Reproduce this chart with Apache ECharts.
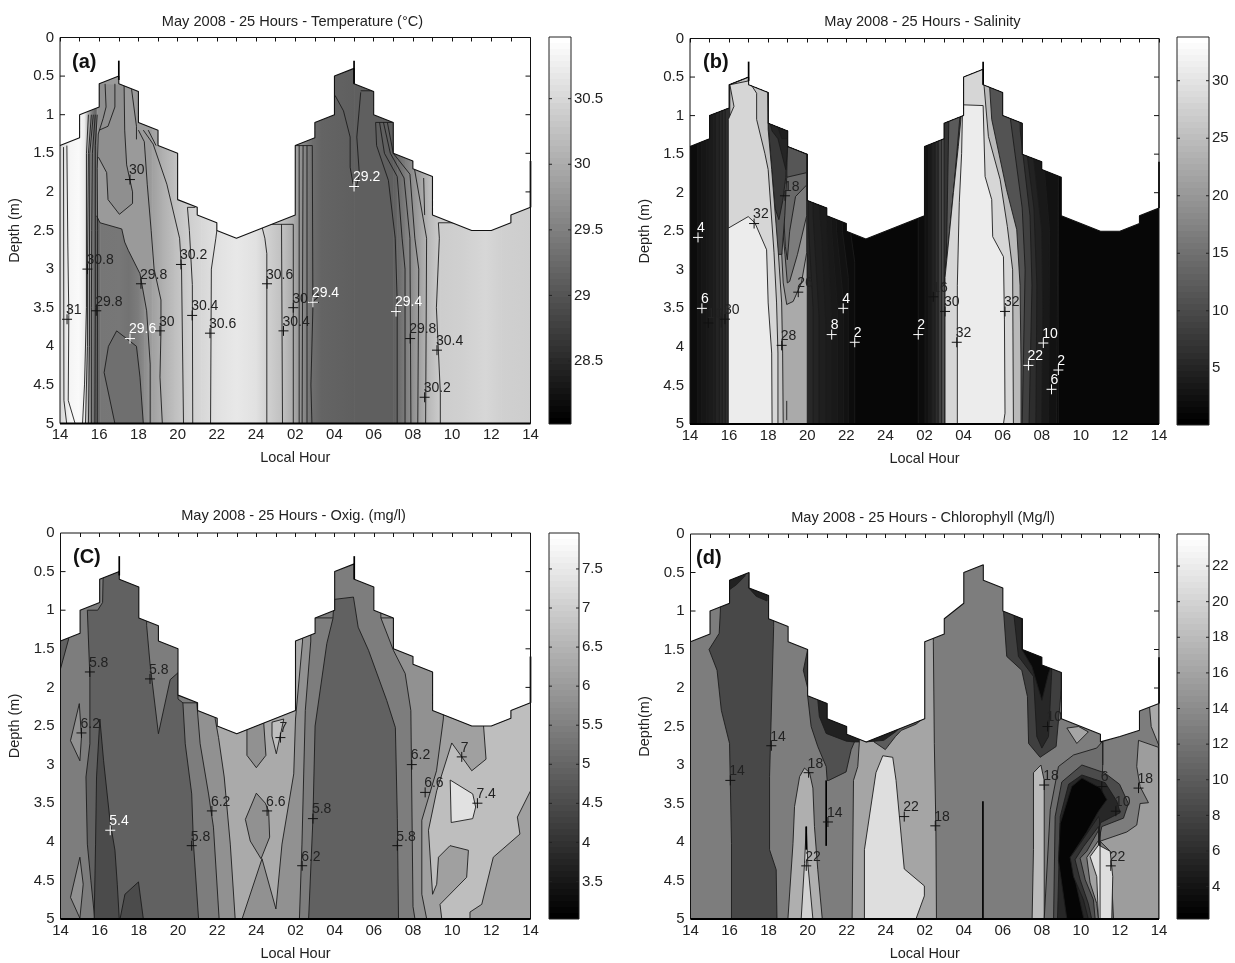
<!DOCTYPE html>
<html><head><meta charset="utf-8">
<style>html,body{margin:0;padding:0;background:#fff}#c{width:1235px;height:963px}</style>
<script src="https://cdn.jsdelivr.net/npm/echarts@6/dist/echarts.min.js"></script>
</head><body><div id="c"></div>
<script>
const hourLabels=['14','16','18','20','22','24','02','04','06','08','10','12','14'];
const depthTicks=[.5,1,1.5,2,2.5,3,3.5,4,4.5];
const surfaceMain=[0,1.4,1,1.3,1,1,2,.9,2,.6,3,.5,3,.6,4,.7,4,1.1,5,1.2,5,1.4,6,1.5,6,2.1,7,2.2,7,2.3,8,2.4,8,2.5,9,2.6,10,2.5,11,2.4,12,2.3,12,1.4,13,1.3,13,1.1,14,1,14,.5,15,.4,15,.6,16,.7,16,1,17,1.1,17,1.5,18,1.6,18,1.7,19,1.8,19,2.3,20,2.4,21,2.5,22,2.5,23,2.4,23,2.3,24,2.2];
const surfaceChl=[0,1.4,1,1.3,1,1,2,.9,2,.6,3,.5,3,.7,4,.8,4,1.1,5,1.2,5,1.4,6,1.5,6,2.1,7,2.2,7,2.4,8,2.5,8,2.6,9,2.7,10,2.6,11,2.5,12,2.4,12,1.4,13,1.3,13,1.1,14,.9,14,.5,15,.4,15,.6,16,.7,16,1,17,1.1,17,1.5,18,1.6,18,1.7,19,1.8,19,2.4,20,2.5,21,2.6,21,2.7,22,2.63,23,2.55,23,2.3,24,2.2];
const spikesMain=[[3,.3,3,.55],[15,.3,15,.6],[24,1.6,24,2.2]];
const spikesChl=[[24,1.6,24,2.2],[14.98,3.47,14.98,5],[6.95,3.2,6.95,4.05],[5.93,3.8,5.93,4.1]];

const tempTicks=[28.5,29,29.5,30,30.5];
const salTicks=[5,10,15,20,25,30];
const oxyTicks=[3.5,4,4.5,5,5.5,6,6.5,7,7.5];
const chlTicks=[4,6,8,10,12,14,16,18,20,22];

const tempHours=[0,.2,.5,.95,1.25,1.4,1.55,1.7,1.95,2.05,3,3.5,4,4.3,4.7,5.2,5.8,6.5,7.2,8,9,10,10.5,11.4,11.9,12.2,12.6,12.85,13.3,15,17,17.2,17.6,18,18.4,18.8,19.4,20.5,21.7,22.5,24];
const tempValues=[30.51,30.62,30.85,30.91,30.74,30.1,29.64,29.29,29.12,29.38,29.4,29.34,29.47,29.64,29.87,30.04,30.22,30.39,30.51,30.62,30.7,30.62,30.45,30.22,29.99,29.76,29.47,29.29,29.18,29.12,29.12,29.23,29.47,29.7,29.93,30.16,30.39,30.43,30.51,30.43,30.39];
const tempPatches=[
 [29.8,[1.87,2.31,2.04,2.4,3.15,2.48,3.3,2.65,3.49,2.76,4.08,3.06,4.42,3.54,4.6,4.23,4.6,0,1.87,0]],
 [29.68,[3.27,.62,3.3,1.2,3.4,1.65,3.7,2,3.7,2.15,3.03,2.29,2.45,2.1,2.38,1.75,1.96,1.55,1.9,.6]],
 [29.3,[2.89,3.8,2.47,4,2.25,4.34,2.8,5,4.25,5,4.08,4.4,3.9,4]]
];
const tempContours=[
 [.18,1.42,.2,4.7,.34,5],[.35,1.4,.4,2.7,.45,3.6,.42,4.7,.77,5],
 [1.45,1,1.35,1.5,1.35,3.5,1.25,4.5,1.15,5],[1.6,1,1.45,1.5,1.4,3,1.4,4,1.3,5],[1.7,1,1.52,1.5,1.5,3,1.5,4,1.45,5],[1.8,1,1.65,1.5,1.62,2.5,1.6,3.5,1.6,5],[1.9,1,1.8,1.4,1.8,2.5,1.8,3.5,1.78,5],
 [2.3,.6,2.35,.9,2.2,1.05,1.95,1.25,1.9,1.7,1.92,2.5,1.9,5],[2.8,.6,2.8,.9,2.45,1.15,2,1.2],
 [3.27,.62,3.3,1.2,3.4,1.65,3.7,2,3.7,2.15,3.03,2.29,2.45,2.1,2.38,1.75,1.96,1.55],[3.65,.67,3.9,1.15,3.9,1.32],
 [4,1.2,4.3,1.35,4.45,1.9,4.65,2.5,4.8,3,5.15,3.4,5.15,3.8,5.1,4.4,5.22,5],
 [4.25,1.2,4.75,1.38,5.45,1.9,6.1,2.6,6.2,3,6.3,5],[4.5,1.2,4.9,1.4],
 [6.5,2.2,6.6,2.5,6.75,3.2,6.77,5],[6.5,2.2,6.9,2.2],[8,2.5,7.95,2.6,7.72,3,7.68,5],
 [2.89,3.8,2.47,4,2.25,4.34,2.8,5],[2.89,3.8,3.9,4,4.08,4.4,4.25,5],
 [1.87,2.31,2.04,2.4,3.15,2.48,3.3,2.65,3.49,2.76,4.08,3.06,4.42,3.54,4.6,4.23,4.6,5],
 [10.3,2.45,10.45,2.6,10.55,2.8,10.55,5],[11.3,2.42,11.35,5],[10.3,2.42,11.9,2.42],[11.9,2.42,11.9,5],
 [12.2,1.4,12.2,5],[12.4,1.4,12.35,5],[12.6,1.4,12.6,5],[12.87,1.4,12.9,3.5,12.8,4.5,12.85,5],[12,1.4,12.87,1.4],
 [14.03,.75,14.46,.95,14.8,1.29,14.8,1.68,14.95,1.9],[15.34,.71,15.14,1.29,15.27,1.77,15.1,1.95],[15.34,.69,16,.69],
 [16.1,1.1,16.15,1.4,16.75,1.85,17.1,2.6,17.2,3.4,17.2,5],[16.3,1.1,16.55,1.5,17.2,1.8,17.45,2.6,17.6,3,17.6,5],[16.5,1.1,16.85,1.5,17.55,1.82,17.85,2.6,17.9,5],[16.7,1.1,17,1.5,17.85,1.77,18.1,2.6,18.3,3,18.25,5],[16.1,1.1,17,1.1],
 [18,1.6,18.1,1.73,18.7,2.6,18.65,5],[18.55,1.82,18.6,2.3],[19.3,2.4,19.35,2.6,19.2,3.5,19.4,4.6,19.4,5],[19.3,2.4,20.5,2.4]
];
const tempMarks=[[3.57,1.84,'30',0],[1.4,3,'30.8',0],[.36,3.65,'31',0],[1.85,3.54,'29.8',0],[3.57,3.9,'29.6',1],[4.13,3.19,'29.8',0],[5.1,3.8,'30',0],[6.17,2.94,'30.2',0],[6.74,3.6,'30.4',0],[7.65,3.83,'30.6',0],[10.56,3.19,'30.6',0],[11.9,3.5,'30.2',0],[11.4,3.8,'30.4',0],[12.9,3.43,'29.4',1],[15,1.93,'29.2',1],[17.14,3.55,'29.4',1],[17.86,3.9,'29.8',0],[19.23,4.05,'30.4',0],[18.6,4.66,'30.2',0]];

const salBands=[
 [1,[0,0,0,5,24,5,24,0]],
 [1.6,[0,0,0,5,8.43,5,8.43,2.9,8.1,2.3,8,0]],
 [2.4,[.4,0,.4,5,8.1,5,8.1,3.1,7.8,2.5,7.6,0]],
 [3,[.6,0,.6,5,7.85,5,7.85,3.4,7.5,2.5,7.3,0]],
 [3.4,[.85,0,.85,5,7.55,5,7.55,3.5,7.25,2.5,7.1,0]],
 [3.8,[1,0,1,5,7.25,5,7.25,3.6,7,2.5,6.9,0]],
 [4.2,[1.15,0,1.15,5,6.95,5,6.95,3.7,6.75,2.6,6.6,2.1,6.5,0]],
 [4.8,[1.3,0,1.3,5,6.6,5,6.6,3.6,6.3,2.3,6.25,0]],
 [5.4,[1.5,0,1.5,5,6.3,5,6.3,3.5,6.05,2.4,6,0]],
 [5.8,[1.65,0,1.65,5,4.2,5,4.2,0]],
 [6.2,[1.8,0,1.8,5,4.2,5,4.2,0]],
 [22.5,[4,5,6,5,6,1.2,4,1.2]],
 [19.8,[5.97,2.78,5.7,3.17,5.28,3.41,4.95,3.45,4.77,3.17,4.69,2.78,4.43,2.05,4.25,1.4,4.2,1.2,5,1.4,5.97,1.5]],
 [16.5,[5.97,2.3,5.5,2.8,5.1,3.15,4.98,3.17,4.86,2.8,4.6,2.1,4.4,1.5,4.3,1.2,5,1.4,5.97,1.5]],
 [13.9,[5.97,1.9,5.4,2.05,5.1,2.5,4.98,2.87,4.88,2.7,4.75,2.1,4.5,1.5,4.4,1.2,5,1.4,5.97,1.5]],
 [11.5,[5.97,1.74,4.95,1.8,4.9,1.5,4.6,1.2,5,1.4,5.97,1.5]],
 [12,[4.1,1.5,4.3,2.2,4.5,2.8,4.7,2.8,4.85,2.3,4.95,1.8,5,1.2,4.1,1.1]],
 [7.5,[4,1.1,4.18,1.7,4.35,2.2,4.55,2.35,4.75,2.1,4.9,1.8,5,1.2]],
 [5,[4,1,5,1,5,1.4,4.9,1.7,4.7,1.5,4.5,1.3,4.2,1.2]],
 [4,[4.3,1,5,1,5,1.3,4.7,1.3]],
 [25.8,[2.04,.6,3,.5,3.98,.69,4,1.18,4.18,1.7,4.52,2.78,4.69,3.43,4.74,4.08,4.77,5,2,5]],
 [28.4,[2.04,.6,2.25,.88,1.96,1.05,1.96,5,4.5,5,4.5,4.08,4.43,3.43,4.3,2.78,4,1.7,3.83,1.49,3.41,1.05,3.41,.71,3,.55]],
 [31.3,[1.96,2.46,2.98,2.31,3.32,2.39,3.92,2.74,4,3.43,4.18,4.08,4.2,5,1.96,5]],
 [1.6,[11.68,0,11.68,5,18.85,5,18.85,0]],
 [2.4,[12.03,0,12.03,5,18.75,5,18.85,1.8,18.85,0]],
 [3.4,[12.2,0,12.2,5,18.35,5,18.4,2.5,18.1,1.6,18,0]],
 [4.6,[12.37,0,12.37,5,18,5,18.05,3.5,18,2.5,17.6,1.6,17.5,0]],
 [6,[12.54,0,12.54,5,17.7,5,17.75,3.2,17.6,2.2,17.2,1.4,17.1,0]],
 [8.5,[12.7,0,12.7,5,17.35,5,17.5,3.2,17.4,2.3,16.9,1.2,16.8,0]],
 [11,[12.88,0,12.88,5,17,5,17.15,3,17,2.2,16.4,1.05,16.3,0]],
 [7,[13,1,13,3.2,13.3,2.4,13.6,1.4,13.7,1]],
 [12,[13.25,1,13.1,3.1,13.48,2,13.75,1.2,13.85,.9]],
 [24.5,[13.94,.84,13.73,1.4,13.48,2,13.05,3.1,13.03,5,16.94,5,16.94,4.25,16.89,3.2,16.72,2.48,16.2,1.96,15.44,1.05,15.3,.5]],
 [28.4,[13.94,0,13.94,.84,13.73,1.4,13.48,2,13.05,3.1,13.05,5,16.55,5,16.51,3,16.24,2.44,15.87,1.83,15.27,1.27,15.05,.62,15,0]],
 [31.3,[13.95,.86,13.9,1.49,13.78,2.13,13.68,3.2,13.68,5,16.04,5,16.12,4.86,16.09,3.65,16.04,2.83,15.49,2.57,15.44,2.09,15.1,1.79,15,.87]]
];
const salContours=[[4.95,4.7,4.95,4.95],[6,2.8,6,3.2],[1.6,3.55,1.6,3.75]];
const salMarks=[[3.28,2.4,'32',0],[4.86,2.04,'18',0],[.41,2.58,'4',1],[.61,3.5,'6',1],[.94,3.69,'10',0],[1.79,3.64,'30',0],[5.54,3.29,'26',0],[4.69,3.98,'28',0],[7.84,3.5,'4',1],[7.25,3.84,'8',1],[8.43,3.94,'2',1],[11.68,3.84,'2',1],[12.45,3.35,'16',0],[13.05,3.54,'30',0],[13.65,3.94,'32',0],[16.12,3.54,'32',0],[17.32,4.24,'22',1],[18.08,3.95,'10',1],[18.85,4.3,'2',1],[18.5,4.55,'6',1]];

const oxyBands=[
 [5.44,[0,0,0,5,24,5,24,0]],
 [4.9,[0,1.3,.42,1.37,0,1.76]],
 [5.83,[.96,2.21,.51,2.69,.99,2.95,1.07,2.64]],
 [5.83,[.99,4.2,.51,4.72,.99,4.99,1.16,4.55]],
 [4.9,[2.22,0,2.15,.9,1.9,1,1.37,1,1.5,1.87,1.5,2.73,1.3,3.16,1.37,4.03,1.55,4.5,1.75,5,7.05,5,6.79,4.03,6.7,3.38,6.37,2.73,6.25,2.2,6,2.15,6,1.81,5.6,1.9,5,2.6,4.57,1.69,4.4,1.2,4.4,0]],
 [4.47,[2.01,2.41,1.84,3.16,1.79,4.03,1.72,5,3,5,2.9,4.55,2.78,4.11,2.53,3.73,2.2,2.95]],
 [4.47,[3.04,5,3.29,4.68,3.98,4.52,4.23,5]],
 [5.83,[6.96,2.2,7.13,2.73,7.56,3.38,7.81,3.81,8.1,5,12.2,5,12.33,4.03,12.5,2.3,12.78,1.4,12.78,0,6.96,0]],
 [6.31,[7.9,2.41,8.07,2.65,8.36,3.16,8.67,4.03,8.92,5,9.27,5,10.29,4.22,11,4.87,11.31,4.03,11.91,3.12,12,2.41,12.36,1.4,12.36,0,7.9,0]],
 [5.83,[10,3.37,9.44,3.71,9.69,3.99,10.24,4.22,10.68,3.94,10.63,3.6,10.46,3.5]],
 [5.83,[9.52,2.58,9.52,2.88,10,3.04,10.49,2.88,10.38,2.47,10,0,9.52,0]],
 [6.7,[10.8,2.45,10.8,2.63,11.02,2.86,11.31,2.52,11.4,2.41]],
 [4.9,[13.97,.86,13.91,1.11,13.6,1.43,13,2.5,12.89,3.7,12.67,5,17.26,5,17.2,3.7,17.1,2.52,16.66,2.17,15.73,1.52,15.2,1.22,14.96,.83]],
 [5.83,[16.36,1.1,17,1.52,17.6,1.82,17.89,2.3,18,4.84,18.1,5,24,5,24,0,16.36,0]],
 [6.12,[19.55,2.41,19.2,3.08,18.45,3.72,18.45,4.68,18.7,5,24,5,24,0,19.7,0]],
 [6.7,[19.98,2.72,21,3.08,21.73,2.93,21.6,2.49,21.6,0,24,0,24,3.34,23.33,3.68,23.46,3.9,22.1,4.2,21.51,4.81,20.91,4.91,20.91,5,19.47,5,19.38,4.81,20.74,4.46,20.83,4.11,19.89,4.05,19.3,4.2,19.21,4.55,19,4.68,18.79,3.85,19.21,3.34]],
 [7.38,[19.9,3.2,21.05,3.38,21.2,3.55,21.05,3.7,19.95,3.75]]
];
const oxyContours=[[12.99,1.1,13.9,1.1],[16.36,1.1,17,1.1],[6.25,2.2,6.96,2.2]];
const oxyMarks=[[1.5,1.8,'5.8',0],[4.57,1.89,'5.8',0],[1.07,2.59,'6.2',0],[2.54,3.85,'5.4',1],[7.73,3.6,'6.2',0],[6.7,4.05,'5.8',0],[10.55,3.6,'6.6',0],[11.23,2.65,'7',0],[12.34,4.31,'6.2',0],[12.89,3.7,'5.8',0],[17.2,4.05,'5.8',0],[17.94,3,'6.2',0],[18.62,3.36,'6.6',0],[20.49,2.9,'7',0],[21.29,3.5,'7.4',0]];

const chlBands=[
 [12.8,[0,0,0,5,24,5,24,0]],
 [8.3,[1.53,0,1.53,1,1.47,1.29,.95,1.5,1.36,1.77,1.58,2.29,2,2.72,2.1,4.02,2.1,5,4.43,5,4.39,4.36,4.05,4.1,4.05,3.15,4.26,1.2,4.26,0]],
 [5,[1.96,.73,2.35,.66,2.78,.55,3.03,.3,2.98,.7,3.37,.81,3.92,.87,4,0,1.96,0]],
 [17,[5.84,3.04,5.59,3.15,5.33,3.54,5.25,4.02,4.99,5,6.75,5,6.52,4.36,6.35,3.8,6.27,3.3,6.1,3.1]],
 [20,[5.93,3.8,5.84,4.28,5.67,5,6.27,5,6.01,4.28]],
 [7,[6,1.5,5.78,1.77,6,2]],
 [9,[6,2.1,6.18,2.5,6.52,2.76,6.95,3.02,7,3.2,7.08,3.2,7.97,3.09,8.23,2.8,8.4,2.7,8.4,0,6,0]],
 [5,[6.52,2.15,6.6,2.37,6.95,2.59,7.98,2.69,8.35,2.7,9,2.7,9,0,6.5,0]],
 [16.2,[8.65,2.7,8.57,3.02,8.35,3.2,8.28,5,12.6,5,12.57,3.8,12.49,2.72,12.44,1.4,12.44,0,8.65,0]],
 [10,[9.4,2.7,9.98,2.8,10.5,2.63,10.8,2.55,11.55,2.47,11.9,2.4,12,0,9,0]],
 [5,[9,2.7,9.9,2.68,10.5,2.57,11,2.45,11.8,2.35,12,0,9,0]],
 [21,[8.91,5,8.91,4.1,9.5,3.1,9.85,2.88,10.36,2.9,10.53,3.2,10.95,4.35,11.98,4.57,11.98,4.7,11.55,5]],
 [7.5,[16,0,16.04,1.01,16.2,1.59,16.97,1.77,17.26,2.11,17.32,2.72,17.91,2.9,18.73,2.76,19,2,19,0]],
 [5.5,[16.58,0,16.58,1.08,16.8,1.59,17.57,1.85,17.74,2.63,18,2.78,18.34,2.63,18.5,1.81,18.5,0]],
 [3,[16.97,1.5,17.49,1.72,18,2.16,18.34,1.81,18.5,1.7,18.5,0,16.97,0]],
 [16.2,[19.28,2.52,19.79,2.72,20.38,2.57,19.88,2.5]],
 [18,[17.57,3.1,17.95,3,18.12,3.2,18.12,5,17.5,5,17.57,4.1]],
 [15.5,[22.95,2.68,23.97,2.77,24,5,21.67,5,21.5,4.12,20.98,3.99,22.35,3.87,22.86,3.78,23.03,3.5,23.46,3.49,23.03,3.28,22.86,3.02]],
 [16.5,[24,1.9,23.5,2.2,23.6,2.5,24,2.75]],
 [11.5,[18.85,3.02,19.62,2.87,20.81,2.78,21.12,2.69,21.12,2.98,20.98,4,20.98,5,18.12,5,18.43,3.58]],
 [8.5,[20.05,3,19.02,3.22,18.68,3.67,18.6,5,20.9,5,20.9,4,21.07,3.8,22.18,3.69,22.43,3.5,21.98,3.25,21.2,3.1]],
 [5.5,[20.05,3.13,19.37,3.25,18.94,3.67,18.8,5,20.9,5,20.9,3.9,21,3.75,22.01,3.62,21.84,3.47,21.24,3.23]],
 [2.6,[20.05,3.17,19.53,3.28,18.94,3.76,18.85,4.24,19.28,5,20.15,5,19.8,4.6,19.45,4.2,20.3,3.87,20.9,3.6,21.33,3.45,21,3.3]],
 [6.5,[20.9,3.67,19.96,4.02,19.45,4.2,19.62,4.45,20.13,4.75,20.38,5,20.95,5,20.95,3.7]],
 [9,[20.9,3.8,20.13,4.06,19.7,4.23,19.96,4.49,20.38,4.8,20.55,5,20.95,5]],
 [12,[20.9,3.85,20.3,4.12,19.96,4.21,20.22,4.49,20.64,4.75,20.73,5,20.95,5]],
 [16,[20.9,3.98,20.3,4.2,20.47,4.53,20.81,4.8,20.9,5,20.95,5]],
 [21,[20.9,4.04,20.47,4.19,20.81,4.45,20.9,5,21.58,5,21.63,4.45,21.5,4.12]]
];
const chlContours=[[20.98,3.99,20.98,5],[21.12,2.69,21.12,3]];
const chlMarks=[[2.04,3.2,'14',0],[4.14,2.75,'14',0],[6.05,3.1,'18',0],[7.04,3.74,'14',0],[5.93,4.31,'22',0],[10.95,3.67,'22',0],[12.54,3.79,'18',0],[18.12,3.26,'18',0],[21.07,3.28,'6',0],[21.79,3.6,'10',0],[22.95,3.3,'18',0],[21.53,4.31,'22',0],[18.29,2.5,'10',0]];

const FONT='"Liberation Sans", Arial, sans-serif';
const panels=[
 {title:'May 2008 - 25 Hours - Temperature (°C)',tag:'(a)',tagX:71,tagY:47,tx:287.5,ty:9,yName:'Depth (m)',surface:surfaceMain,spikes:spikesMain,range:[28.02,30.97],ticks:tempTicks,strips:[tempHours,tempValues],bands:tempPatches,bandStroke:false,contours:tempContours,marks:tempMarks,g:[60,37.5,470.5,386],cb:[549,37,22,387]},
 {title:'May 2008 - 25 Hours - Salinity',tag:'(b)',tagX:702,tagY:47,tx:917.5,ty:9,yName:'Depth (m)',surface:surfaceMain,spikes:spikesMain,range:[.07,33.8],ticks:salTicks,bands:salBands,bandStroke:true,contours:salContours,marks:salMarks,g:[690,38.5,469,385.5],cb:[1177,37,32,388]},
 {title:'May 2008 - 25 Hours - Oxig. (mg/l)',tag:'(C)',tagX:72,tagY:542,tx:288.5,ty:503,yName:'Depth (m)',surface:surfaceMain,spikes:spikesMain,range:[3.02,7.96],ticks:oxyTicks,bands:oxyBands,bandStroke:true,contours:oxyContours,marks:oxyMarks,g:[60.5,533,470,386],cb:[549,533,30,386]},
 {title:'May 2008 - 25 Hours - Chlorophyll (Mg/l)',tag:'(d)',tagX:695,tagY:543,tx:918,ty:505,yName:'Depth(m)',surface:surfaceChl,spikes:spikesChl,range:[2.18,23.8],ticks:chlTicks,bands:chlBands,bandStroke:true,contours:chlContours,marks:chlMarks,g:[690.5,534,468.5,385],cb:[1177,534,32,385]}
];
const gray=(v,r)=>{const c=Math.max(0,Math.min(255,Math.round(255*(v-r[0])/(r[1]-r[0]))));return `rgb(${c},${c},${c})`;};
const pairs=a=>{const o=[];for(let i=0;i<a.length;i+=2)o.push([a[i],a[i+1]]);return o;};

const option={animation:false,backgroundColor:'#fff',title:[],grid:[],xAxis:[],yAxis:[],series:[]};
const axisCommon={axisLine:{show:false},splitLine:{show:false},z:0};
const labelStyle={color:'#222',fontFamily:FONT,fontSize:15};
const nameStyle={fontFamily:FONT,fontSize:14.5,color:'#222'};

panels.forEach(p=>{
 const r=p.range;
 option.title.push({text:p.title,left:p.tx,top:p.ty,textAlign:'center',textStyle:{fontFamily:FONT,fontSize:14.6,fontWeight:'normal',color:'#222'}});
 option.title.push({text:p.tag,left:p.tagX-4,top:p.tagY,textStyle:{fontFamily:FONT,fontSize:20,fontWeight:'bold',color:'#111'},z:20});
 const gi=option.grid.length;
 option.grid.push({left:p.g[0],top:p.g[1],width:p.g[2],height:p.g[3],backgroundColor:'#fff',show:true,borderWidth:0});
 option.grid.push({left:p.cb[0],top:p.cb[1],width:p.cb[2],height:p.cb[3],show:false});
 const xi=option.xAxis.length, yi=option.yAxis.length;
 option.xAxis.push({...axisCommon,type:'value',gridIndex:gi,min:0,max:24,interval:1,position:'bottom',name:'Local Hour',nameLocation:'middle',nameGap:27,nameTextStyle:nameStyle,axisTick:{show:false},axisLabel:{...labelStyle,margin:4,formatter:v=>v%2===0?hourLabels[v/2]:''}});
 option.xAxis.push({...axisCommon,type:'value',gridIndex:gi,min:0,max:24,interval:1,position:'top',axisTick:{show:true,inside:true,length:4,lineStyle:{color:'#111'}},axisLabel:{show:false}});
 option.xAxis.push({type:'value',gridIndex:gi+1,min:0,max:1,show:false});
 option.yAxis.push({...axisCommon,type:'value',gridIndex:gi,min:0,max:5,interval:.5,inverse:true,position:'left',name:p.yName,nameLocation:'middle',nameGap:38,nameTextStyle:nameStyle,axisTick:{show:false},axisLabel:{...labelStyle,margin:6}});
 option.yAxis.push({type:'value',gridIndex:gi+1,min:r[0],max:r[1],position:'right',z:5,splitLine:{show:false},axisLine:{show:false},axisTick:{show:false},axisLabel:{...labelStyle,margin:3,customValues:p.ticks}});

 const water=p.surface.concat([24,5,0,5]);
 const waterPx=api=>pairs(water).map(q=>api.coord(q));
 const clip=api=>({type:'polygon',shape:{points:waterPx(api)}});
 const base={type:'custom',xAxisIndex:xi,yAxisIndex:yi,silent:true,clip:true};

 // inward depth ticks on both sides of the plot, under the water fill
 option.series.push({...base,clip:false,z:1,data:depthTicks.map((d,i)=>[i,0]),encode:{x:0,y:1},renderItem:(ps,api)=>{
   const d=depthTicks[ps.dataIndex],a=api.coord([0,d]),b=api.coord([24,d]);
   return {type:'group',children:[
    {type:'line',shape:{x1:a[0],y1:a[1],x2:a[0]+5,y2:a[1]},style:{stroke:'#111',lineWidth:1}},
    {type:'line',shape:{x1:b[0]-5,y1:b[1],x2:b[0],y2:b[1]},style:{stroke:'#111',lineWidth:1}}]};
 }});
 if(p.strips){
  const [hs,vs]=p.strips;
  option.series.push({...base,z:2,data:hs.slice(0,-1).map((h,i)=>[i,0]),encode:{x:0,y:1},renderItem:(ps,api)=>{
   const i=ps.dataIndex,a=api.coord([hs[i],0]),b=api.coord([hs[i+1],5]);
   return {type:'rect',shape:{x:a[0],y:a[1],width:b[0]-a[0]+.6,height:b[1]-a[1]},clipPath:clip(api),
    style:{fill:new echarts.graphic.LinearGradient(0,0,1,0,[{offset:0,color:gray(vs[i],r)},{offset:1,color:gray(vs[i+1],r)}])}};
  }});
 }
 option.series.push({...base,z:3,data:p.bands.map((b,i)=>[i,0]),encode:{x:0,y:1},renderItem:(ps,api)=>{
   const b=p.bands[ps.dataIndex];
   return {type:'polygon',shape:{points:pairs(b[1]).map(q=>api.coord(q))},clipPath:clip(api),
    style:{fill:gray(b[0],r),stroke:p.bandStroke?'#1c1c1c':null,lineWidth:p.bandStroke?.9:0}};
 }});
 option.series.push({...base,z:4,data:p.contours.map((b,i)=>[i,0]),encode:{x:0,y:1},renderItem:(ps,api)=>({
   type:'polyline',shape:{points:pairs(p.contours[ps.dataIndex]).map(q=>api.coord(q))},clipPath:clip(api),
   style:{fill:null,stroke:'#1c1c1c',lineWidth:.9}})});
 option.series.push({type:'line',xAxisIndex:xi,yAxisIndex:yi,z:5,silent:true,symbol:'none',data:pairs(p.surface),lineStyle:{color:'#111',width:1.1},clip:false});
 option.series.push({...base,clip:false,z:6,data:p.spikes.map((b,i)=>[i,0]),encode:{x:0,y:1},renderItem:(ps,api)=>{
   const q=p.spikes[ps.dataIndex],a=api.coord([q[0],q[1]]),b=api.coord([q[2],q[3]]);
   return {type:'line',shape:{x1:a[0],y1:a[1],x2:b[0],y2:b[1]},style:{stroke:'#000',lineWidth:1.7}};
 }});
 option.series.push({...base,clip:false,z:7,data:[[0,0]],encode:{x:0,y:1},renderItem:(ps,api)=>{
   const a=api.coord([0,0]),b=api.coord([24,5]);
   return {type:'group',children:[
    {type:'rect',shape:{x:a[0],y:a[1],width:b[0]-a[0],height:b[1]-a[1]},style:{fill:null,stroke:'#111',lineWidth:1}},
    {type:'line',shape:{x1:a[0],y1:b[1],x2:b[0],y2:b[1]},style:{stroke:'#000',lineWidth:2}}]};
 }});
 option.series.push({...base,clip:false,z:8,data:p.marks.map((m,i)=>[i,0]),encode:{x:0,y:1},renderItem:(ps,api)=>{
   const m=p.marks[ps.dataIndex],c=api.coord([m[0],m[1]]),col=m[3]?'#fff':'#111';
   return {type:'group',children:[
    {type:'line',shape:{x1:c[0]-5,y1:c[1],x2:c[0]+5,y2:c[1]},style:{stroke:col,lineWidth:1}},
    {type:'line',shape:{x1:c[0],y1:c[1]-5,x2:c[0],y2:c[1]+5},style:{stroke:col,lineWidth:1}},
    {type:'text',style:{text:m[2],x:c[0]-1,y:c[1]-2,align:'left',verticalAlign:'bottom',fill:m[3]?'#fff':'#222',fontFamily:FONT,fontSize:14}}]};
 }});
 const stops=[];for(let i=0;i<64;i++){const c=Math.round(i*255/63),col=`rgb(${c},${c},${c})`;stops.push({offset:i/64,color:col},{offset:(i+1)/64,color:col});}
 const cbBase={type:'custom',xAxisIndex:xi+2,yAxisIndex:yi+1,silent:true};
 option.series.push({...cbBase,z:2,data:[[0,r[0]]],encode:{x:0,y:1},renderItem:(ps,api)=>{
   const a=api.coord([0,r[1]]),b=api.coord([1,r[0]]);
   return {type:'rect',shape:{x:a[0],y:a[1],width:b[0]-a[0],height:b[1]-a[1]},
    style:{fill:new echarts.graphic.LinearGradient(0,1,0,0,stops),stroke:'#222',lineWidth:1}};
 }});
 option.series.push({...cbBase,z:3,data:p.ticks.map((t,i)=>[i,0]),encode:{x:0,y:1},renderItem:(ps,api)=>{
   const t=p.ticks[ps.dataIndex],a=api.coord([0,t]),b=api.coord([1,t]);
   return {type:'group',children:[
    {type:'line',shape:{x1:a[0],y1:a[1],x2:a[0]+3,y2:a[1]},style:{stroke:'#222',lineWidth:1}},
    {type:'line',shape:{x1:b[0]-3,y1:b[1],x2:b[0],y2:b[1]},style:{stroke:'#222',lineWidth:1}}]};
 }});
});
const chart=echarts.init(document.getElementById('c'),null,{renderer:'canvas'});
chart.setOption(option);
</script></body></html>
